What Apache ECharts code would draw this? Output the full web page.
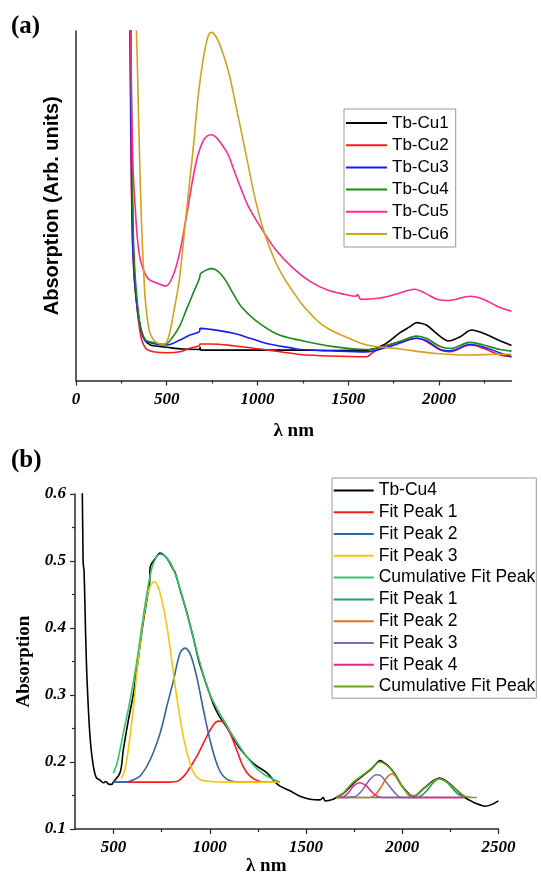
<!DOCTYPE html>
<html><head><meta charset="utf-8">
<script src="https://cdn.jsdelivr.net/npm/echarts@6/dist/echarts.min.js"></script>
<style>html,body{margin:0;padding:0;background:#fff}#c{width:541px;height:877px}</style>
</head><body><div id="c"></div>
<script>
// ---------- Panel (a) data: [wavelength nm, absorption (arb.)] ----------
const tbCu1 = [[300,1.05],[306,0.7],[313,0.42],[322,0.3],[333,0.23],[345,0.18],[360,0.14],[380,0.115],[408,0.102],[426,0.0996],[500,0.095],[591,0.090],[680,0.0887],[684,0.095],[688,0.087],[776,0.087],[959,0.087],[1198,0.087],[1400,0.086],[1602,0.087],[1694,0.1016],[1786,0.137],[1841,0.154],[1878,0.1655],[1900,0.164],[1933,0.158],[2007,0.126],[2052,0.113],[2117,0.1254],[2181,0.1445],[2245,0.135],[2337,0.1135],[2400,0.100]];
const tbCu2 = [[296,1.05],[302,0.7],[310,0.42],[320,0.3],[332,0.23],[345,0.17],[360,0.12],[375,0.1],[390,0.089],[426,0.0824],[500,0.0796],[573,0.0824],[628,0.092],[680,0.0997],[684,0.1044],[739,0.1044],[867,0.0996],[1014,0.090],[1125,0.0824],[1235,0.0745],[1400,0.070],[1602,0.068],[1630,0.078],[1694,0.097],[1786,0.111],[1878,0.1207],[1933,0.111],[2007,0.0873],[2062,0.0824],[2172,0.1016],[2245,0.092],[2337,0.073],[2400,0.069]];
const tbCu3 = [[298,1.05],[304,0.7],[311,0.42],[321,0.3],[333,0.23],[345,0.18],[360,0.14],[380,0.116],[426,0.106],[500,0.1016],[573,0.116],[628,0.130],[680,0.140],[684,0.149],[739,0.1465],[867,0.135],[959,0.121],[1051,0.106],[1198,0.092],[1235,0.0887],[1400,0.085],[1602,0.082],[1694,0.092],[1786,0.107],[1878,0.121],[1933,0.114],[2007,0.0887],[2062,0.085],[2172,0.103],[2245,0.096],[2337,0.079],[2400,0.067]];
const tbCu4 = [[302,1.05],[308,0.7],[316,0.42],[326,0.3],[337,0.23],[350,0.17],[365,0.135],[385,0.115],[408,0.111],[455,0.105],[491,0.1036],[532,0.124],[573,0.158],[610,0.205],[646,0.25],[680,0.292],[686,0.305],[700,0.311],[722,0.317],[745,0.320],[770,0.317],[799,0.304],[830,0.282],[856,0.258],[913,0.210],[989,0.172],[1104,0.134],[1235,0.115],[1419,0.097],[1602,0.0887],[1694,0.097],[1786,0.112],[1878,0.127],[1933,0.120],[2007,0.097],[2062,0.0915],[2172,0.109],[2245,0.1016],[2337,0.0887],[2400,0.084]];
const tbCu5 = [[300,1.05],[306,0.8],[315,0.6],[326,0.497],[341,0.392],[360,0.334],[398,0.291],[455,0.277],[494,0.270],[532,0.296],[570,0.363],[608,0.468],[646,0.583],[672,0.645],[700,0.685],[722,0.699],[745,0.703],[770,0.697],[800,0.678],[837,0.648],[875,0.595],[913,0.544],[951,0.497],[1028,0.430],[1104,0.372],[1199,0.320],[1294,0.282],[1390,0.258],[1485,0.246],[1542,0.241],[1551,0.246],[1570,0.232],[1676,0.236],[1771,0.248],[1866,0.261],[1923,0.250],[1999,0.231],[2057,0.229],[2171,0.241],[2247,0.232],[2323,0.212],[2400,0.198]];
const tbCu6 = [[330,1.05],[336,0.95],[345,0.75],[355,0.55],[365,0.40],[375,0.29],[382,0.23],[395,0.17],[408,0.135],[430,0.115],[455,0.106],[481,0.104],[500,0.11],[518,0.14],[540,0.2],[570,0.29],[608,0.48],[646,0.665],[675,0.821],[703,0.926],[728,0.985],[745,0.996],[770,0.985],[799,0.952],[840,0.885],[875,0.802],[913,0.707],[951,0.611],[989,0.516],[1028,0.439],[1066,0.382],[1104,0.334],[1150,0.29],[1199,0.252],[1250,0.215],[1294,0.19],[1350,0.162],[1419,0.14],[1485,0.125],[1602,0.1016],[1786,0.090],[1970,0.078],[2154,0.073],[2337,0.075],[2400,0.075]];
const seriesNamesA = ['Tb-Cu1','Tb-Cu2','Tb-Cu3','Tb-Cu4','Tb-Cu5','Tb-Cu6'];
const aMajorTicks = [0,500,1000,1500,2000];
const aMinorTicks = [250,750,1250,1750,2250];

// ---------- Panel (b) data ----------
const bTbCu4 = [[335,0.62],[338,0.6],[342,0.5],[345,0.49],[347,0.486],[352,0.43],[358,0.36],[366,0.30],[378,0.238],[393,0.198],[410,0.177],[430,0.173],[447,0.169],[460,0.171],[475,0.167],[491,0.1666],[499,0.170],[534,0.184],[551,0.218],[577,0.262],[603,0.301],[620,0.335],[650,0.400],[675,0.445],[688,0.470],[690,0.490],[720,0.505],[742,0.512],[780,0.503],[811,0.487],[820,0.483],[845,0.458],[880,0.424],[915,0.385],[949,0.345],[1018,0.287],[1050,0.268],[1088,0.252],[1157,0.220],[1226,0.198],[1296,0.184],[1340,0.170],[1365,0.164],[1417,0.157],[1469,0.149],[1521,0.1445],[1573,0.1434],[1590,0.147],[1599,0.142],[1642,0.1445],[1668,0.149],[1694,0.153],[1746,0.168],[1798,0.180],[1841,0.190],[1870,0.199],[1884,0.202],[1900,0.200],[1928,0.194],[1962,0.182],[1997,0.165],[2040,0.151],[2060,0.149],[2075,0.151],[2118,0.162],[2161,0.172],[2192,0.176],[2231,0.171],[2283,0.158],[2326,0.147],[2369,0.140],[2404,0.136],[2430,0.134],[2460,0.136],[2500,0.142]];
const fitA1 = [[500,0.17],[776,0.17],[828,0.171],[855,0.176],[880,0.184],[932,0.208],[984,0.238],[1018,0.255],[1044,0.261],[1070,0.26],[1105,0.243],[1140,0.218],[1174,0.193],[1209,0.179],[1261,0.171],[1300,0.17],[1365,0.17]];
const fitA2 = [[500,0.17],[568,0.17],[600,0.173],[638,0.179],[690,0.203],[742,0.243],[776,0.282],[811,0.321],[845,0.362],[871,0.370],[897,0.362],[923,0.338],[945,0.31],[967,0.278],[1001,0.233],[1036,0.198],[1070,0.179],[1122,0.171],[1192,0.17],[1250,0.17]];
const fitA3 = [[540,0.175],[560,0.19],[580,0.225],[603,0.28],[620,0.33],[646,0.395],[664,0.429],[681,0.455],[700,0.467],[712,0.469],[728,0.464],[742,0.452],[760,0.43],[776,0.405],[794,0.37],[811,0.333],[828,0.298],[845,0.267],[870,0.228],[897,0.198],[920,0.182],[949,0.174],[1000,0.171],[1100,0.17],[1365,0.17]];
const cumA = [[499,0.183],[520,0.2],[551,0.243],[586,0.292],[620,0.348],[646,0.40],[672,0.449],[698,0.488],[721,0.505],[742,0.51],[776,0.505],[811,0.488],[845,0.459],[880,0.424],[915,0.385],[949,0.348],[1001,0.301],[1053,0.272],[1088,0.255],[1122,0.238],[1192,0.208],[1261,0.186],[1330,0.174],[1365,0.170]];
const fitB1 = [[1659,0.147],[2070,0.147],[2100,0.150],[2130,0.158],[2161,0.169],[2192,0.175],[2231,0.170],[2260,0.161],[2290,0.152],[2326,0.147]];
const fitB2 = [[1659,0.147],[1830,0.147],[1860,0.151],[1893,0.164],[1920,0.177],[1945,0.182],[1965,0.179],[1988,0.169],[2023,0.154],[2048,0.147],[2326,0.147]];
const fitB3 = [[1659,0.147],[1750,0.148],[1781,0.154],[1824,0.171],[1850,0.179],[1872,0.181],[1895,0.178],[1919,0.169],[1962,0.154],[1997,0.147],[2326,0.147]];
const fitB4 = [[1659,0.147],[1694,0.148],[1720,0.154],[1746,0.164],[1777,0.169],[1800,0.167],[1815,0.164],[1850,0.153],[1877,0.148],[1900,0.147],[2326,0.147]];
const cumB = [[1659,0.148],[1694,0.154],[1720,0.162],[1746,0.170],[1798,0.181],[1841,0.191],[1884,0.200],[1928,0.193],[1962,0.181],[1997,0.164],[2040,0.151],[2060,0.150],[2075,0.151],[2118,0.1615],[2161,0.171],[2192,0.175],[2231,0.170],[2283,0.158],[2326,0.149],[2387,0.147]];
const seriesNamesB = ['Tb-Cu4','Fit Peak 1','Fit Peak 2','Fit Peak 3','Cumulative Fit Peak','Fit Peak 1','Fit Peak 2','Fit Peak 3','Fit Peak 4','Cumulative Fit Peak'];
const bXMajorTicks = [500,1000,1500,2000,2500];
const bXMinorTicks = [750,1250,1750,2250];

const colorsA = ['#000000','#ff1a1a','#1a1aff','#1a8a1a','#ff2a8c','#d4a11e'];
const colorsB = ['#000000','#ff1a1a','#2f64a8','#ffc20e','#33c46a','#1b9e77','#e8701a','#7570b3','#e7298a','#66a61e'];

const dataA = [tbCu1,tbCu2,tbCu3,tbCu4,tbCu5,tbCu6];
const dataB = [bTbCu4,fitA1,fitA2,fitA3,cumA,fitB1,fitB2,fitB3,fitB4,cumB];

// unique internal names (trailing spaces), displayed trimmed
const uniq = (arr, used) => arr.map(n => { let k = n; while (used.has(k)) k += ' '; used.add(k); return k; });
const used = new Set();
const keysA = uniq(seriesNamesA, used);
const keysB = uniq(seriesNamesB, used);

const serif = 'Liberation Serif';
const sans = 'Liberation Sans';
const axisCol = '#2a2a2a';

function line(name, data, color, xi, yi, w) {
  return { type:'line', name, data, xAxisIndex:xi, yAxisIndex:yi, showSymbol:false, symbol:'none',
    smooth:0.35, color, lineStyle:{color, width:w}, emphasis:{disabled:true}, silent:true };
}
const series = [];
dataA.forEach((d,i) => series.push(line(keysA[i], d, colorsA[i], 0, 0, 1.6)));
dataB.forEach((d,i) => series.push(line(keysB[i], d, colorsB[i], 2, 1, 1.6)));

const tickLabelStyle = { fontFamily:serif, fontStyle:'italic', fontWeight:'bold', fontSize:17, color:'#000' };
const legendText = (fs) => ({ fontFamily:sans, fontSize:fs, lineHeight:20, color:'#000' });
const plain = v => String(v);

const option = {
  animation:false,
  backgroundColor:'#fff',
  title:[
    {text:'(a)', left:11, top:14, padding:0, textStyle:{fontFamily:serif, fontWeight:'bold', fontSize:25, color:'#000'}},
    {text:'(b)', left:11, top:448, padding:0, textStyle:{fontFamily:serif, fontWeight:'bold', fontSize:25, color:'#000'}}
  ],
  grid:[
    {left:76, top:31, width:435.5, height:349.5},
    {left:75, top:494, width:423.5, height:339.5}
  ],
  xAxis:[
    {gridIndex:0, type:'value', min:0, max:2400, position:'bottom',
      axisLine:{lineStyle:{color:axisCol, width:1.5}},
      axisTick:{customValues:aMajorTicks, length:5, lineStyle:{color:axisCol, width:1.2}},
      axisLabel:{customValues:aMajorTicks, margin:11, formatter:plain, ...tickLabelStyle},
      splitLine:{show:false},
      name:'λ nm', nameLocation:'middle', nameGap:41,
      nameTextStyle:{fontFamily:serif, fontWeight:'bold', fontSize:19, color:'#000'}},
    {gridIndex:0, type:'value', min:0, max:2400, position:'bottom',
      axisLine:{show:false}, axisLabel:{show:false}, splitLine:{show:false},
      axisTick:{customValues:aMinorTicks, length:3, lineStyle:{color:axisCol, width:1.2}}},
    {gridIndex:1, type:'value', min:300, max:2500, position:'bottom',
      axisLine:{lineStyle:{color:axisCol, width:1.5}},
      axisTick:{customValues:bXMajorTicks, length:5, lineStyle:{color:axisCol, width:1.2}},
      axisLabel:{customValues:bXMajorTicks, margin:10, formatter:plain, ...tickLabelStyle},
      splitLine:{show:false},
      name:'λ nm', nameLocation:'middle', nameGap:28,
      nameTextStyle:{fontFamily:serif, fontWeight:'bold', fontSize:19, color:'#000', padding:[0,41,0,0]}},
    {gridIndex:1, type:'value', min:300, max:2500, position:'bottom',
      axisLine:{show:false}, axisLabel:{show:false}, splitLine:{show:false},
      axisTick:{customValues:bXMinorTicks, length:3, lineStyle:{color:axisCol, width:1.2}}}
  ],
  yAxis:[
    {gridIndex:0, type:'value', min:0, max:1,
      axisLine:{show:true, lineStyle:{color:axisCol, width:1.5}},
      axisTick:{show:false}, axisLabel:{show:false}, splitLine:{show:false},
      name:'Absorption (Arb. units)', nameLocation:'middle', nameGap:14,
      nameTextStyle:{fontFamily:sans, fontWeight:'bold', fontSize:20, color:'#000'}},
    {gridIndex:1, type:'value', min:0.1, max:0.6, interval:0.1,
      axisLine:{show:true, lineStyle:{color:axisCol, width:1.5}},
      axisTick:{show:true, length:5, lineStyle:{color:axisCol, width:1.2}},
      minorTick:{show:true, splitNumber:2, length:3, lineStyle:{color:axisCol, width:1.2}},
      axisLabel:{margin:9, formatter:v => v.toFixed(1), ...tickLabelStyle},
      splitLine:{show:false},
      name:'Absorption', nameLocation:'middle', nameGap:36,
      nameTextStyle:{fontFamily:serif, fontWeight:'bold', fontSize:19, color:'#000'}}
  ],
  legend:[
    {orient:'vertical', left:344, top:109, data:keysA, selectedMode:false, icon:'rect',
      itemWidth:41, itemHeight:2, itemGap:2.2, padding:[4,7,3,2],
      borderColor:'#999', borderWidth:1, backgroundColor:'#fff',
      formatter:n => n.trim(), textStyle:legendText(17)},
    {orient:'vertical', left:332, top:478, data:keysB, selectedMode:false, icon:'rect',
      itemWidth:40, itemHeight:2, itemGap:1.8, padding:[2.4,1,1.6,1.7],
      borderColor:'#999', borderWidth:1, backgroundColor:'#fff',
      formatter:n => n.trim(), textStyle:legendText(17.5)}
  ],
  series
};
const chart = echarts.init(document.getElementById('c'), null, {renderer:'canvas'});
chart.setOption(option);
</script>
</body></html>
